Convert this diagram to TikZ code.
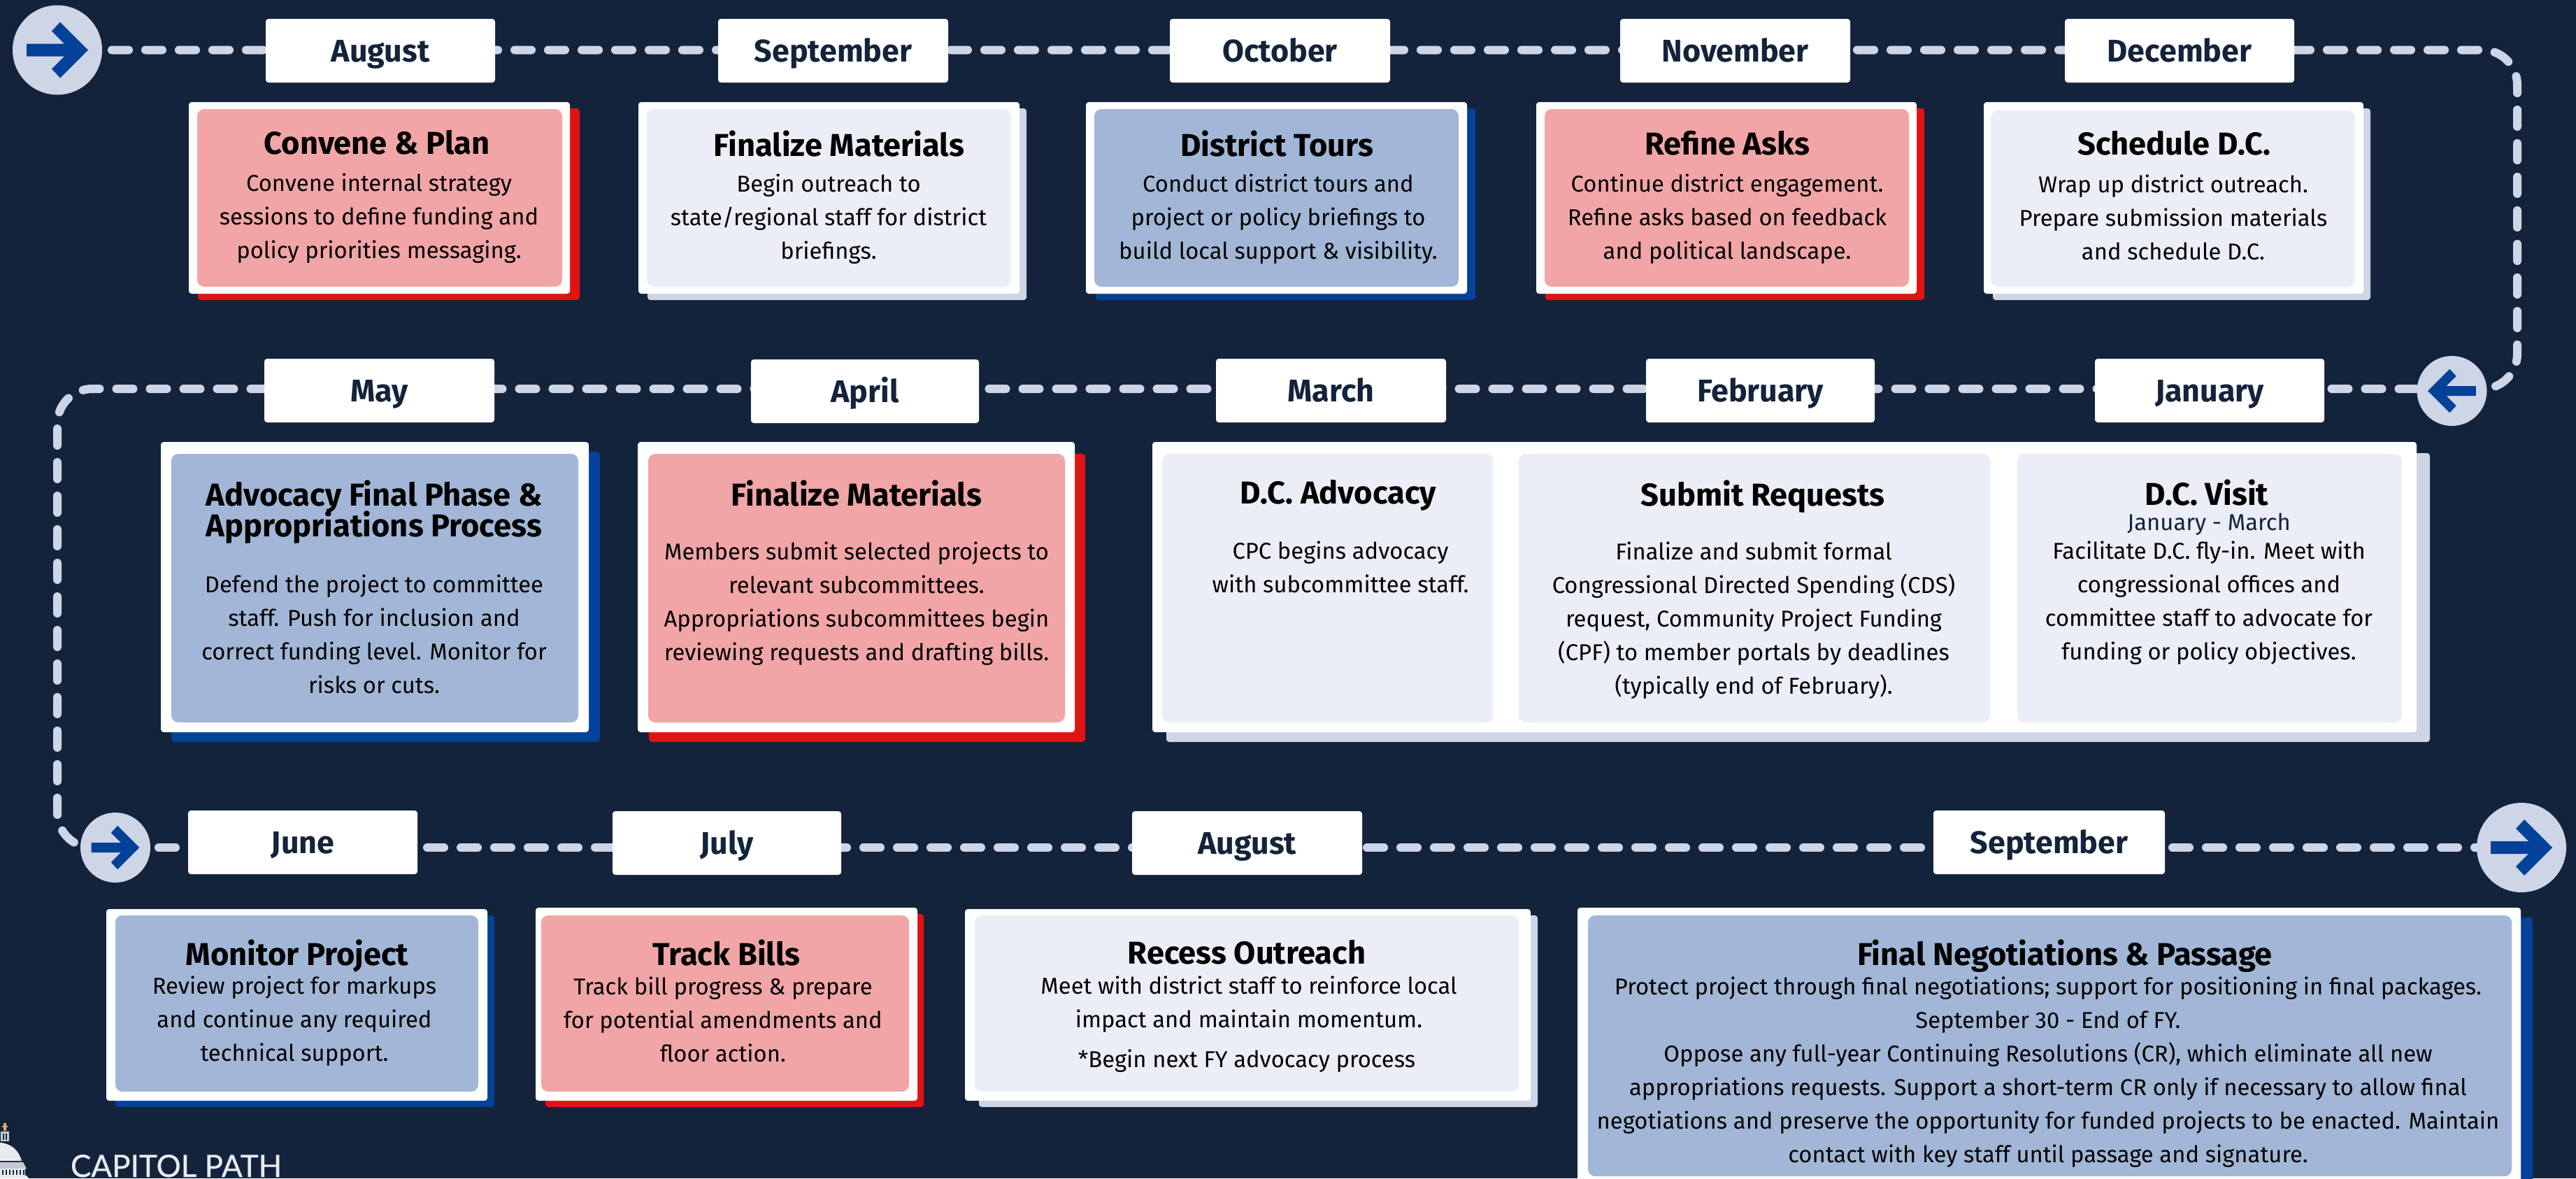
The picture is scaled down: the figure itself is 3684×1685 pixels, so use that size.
\documentclass[tikz,border=0pt]{standalone}
\usepackage{fontspec}
\setmainfont{Fira Sans}
\newfontfamily\logofont{Lato}[FakeBold=0.5]
\lineskiplimit=-20pt
\definecolor{bgnavy}{HTML}{13233B}
\definecolor{pinkfill}{HTML}{F2A5A6}
\definecolor{redshadow}{HTML}{E01313}
\definecolor{palefill}{HTML}{EBEEF6}
\definecolor{paleshadow}{HTML}{CED5E7}
\definecolor{bluefill}{HTML}{A2B7D7}
\definecolor{blueshadow}{HTML}{044198}
\pgfdeclarelayer{lines}
\pgfsetlayers{lines,main}
\tikzset{
  x=0.25pt,y=-0.25pt,
  plate/.style={rectangle,inner sep=0pt,outer sep=0pt,rounded corners=1pt},
  whiteplate/.style={plate,fill=white},
  redplate/.style={plate,fill=redshadow},
  paleshadowplate/.style={plate,fill=paleshadow},
  blueshadowplate/.style={plate,fill=blueshadow},
  pinkplate/.style={plate,fill=pinkfill,rounded corners=2.5pt},
  paleplate/.style={plate,fill=palefill,rounded corners=2.5pt},
  blueplate/.style={plate,fill=bluefill,rounded corners=2.5pt},
  monthbox/.style={plate,fill=white,anchor=north,text=bgnavy,text height=15.25pt,text depth=7.5pt,
    font=\fontsize{11.2}{12}\selectfont\bfseries},
  bodytxt/.style={inner sep=0pt,outer sep=0pt,anchor=north,align=center,text=black,font=\fontsize{8.2}{12}\selectfont},
  titletxt/.style={inner sep=0pt,outer sep=0pt,anchor=north,align=center,text=black,font=\fontsize{11.3}{11}\selectfont\bfseries},
  subtxt/.style={bodytxt,text=bgnavy},
  stop/.style={circle,fill=paleshadow,inner sep=0pt,outer sep=0pt},
  trail/.style={draw=paleshadow,line width=3pt,line cap=round,rounded corners=12.5pt},
  glyph/.style={fill=blueshadow}
}
\newcommand\plt[6]{\node[#2,minimum width={(#5-#3)*0.25pt},minimum height={(#6-#4)*0.25pt}] (#1) at ({(#3+#5)/2},{(#4+#6)/2}) {};}
\newcommand\monthlabel[5]{\node[monthbox,minimum width={(#5-#3)*0.25pt}] (#1) at ({(#3+#5)/2},#4) {#2};}
\newcommand\bodyt[4]{\node[bodytxt] (#1) at (#2,#3-32.6) {\strut #4};}
\newcommand\subt[4]{\node[subtxt] (#1) at (#2,#3-32.6) {\strut #4};}
\newcommand\titlet[4]{\node[titletxt] (#1) at (#2,#3-33.8) {\strut #4};}
\newcommand\arrowglyph[3]{\fill[glyph,shift={(#1.center)},xscale=#3,yscale=#2,xscale=#2]
  (44,0) -- (4,-40) -- (-8,-27) -- (10,-9) -- (-44,-9) -- (-44,9) -- (10,9) -- (-8,27) -- (4,40) -- cycle;}
\begin{document}
\begin{tikzpicture}
\useasboundingbox (0,0) rectangle (3684,1685);
\begin{pgfonlayer}{lines}
\fill[bgnavy] (0,0) rectangle (3684,1685);
\end{pgfonlayer}

% stops
\node[stop,minimum size=32pt] (stopA) at (82,71.5) {};
\node[stop,minimum size=25pt] (stopB) at (3506.5,559) {};
\node[stop,minimum size=25pt] (stopC) at (165,1212) {};
\node[stop,minimum size=32pt] (stopD) at (3606,1212) {};
\arrowglyph{stopA}{1}{1}
\arrowglyph{stopB}{0.78}{-1}
\arrowglyph{stopC}{0.78}{1}
\arrowglyph{stopD}{1}{1}

% turning points of the trail
\coordinate (cornerTR) at (3600,71.5);
\coordinate (cornerBR) at (3600,556);
\coordinate (cornerTL) at (82,556);
\coordinate (cornerBL) at (82,1212);
\begin{pgfonlayer}{lines}
\draw[trail,dash pattern=on 6pt off 6pt,dash phase=4.5pt] (stopA.center) -- (cornerTR) -- (cornerBR) -- (stopB |- cornerBR);
\draw[trail,dash pattern=on 6pt off 6pt,dash phase=11pt] (stopB |- cornerBR) -- (cornerTL) -- (cornerBL) -- (stopC.center);
\draw[trail,dash pattern=on 6pt off 6pt,dash phase=8.5pt] (stopC.center) -- (stopD.center);
\end{pgfonlayer}

% months
\monthlabel{mAug}{August}{380}{27}{708}
\monthlabel{mSep}{September}{1027}{27}{1356}
\monthlabel{mOct}{October}{1673}{27}{1988}
\monthlabel{mNov}{November}{2317}{27}{2646}
\monthlabel{mDec}{December}{2953}{27}{3281}
\monthlabel{mJan}{January}{2996}{513}{3324}
\monthlabel{mFeb}{February}{2354}{513}{2681}
\monthlabel{mMar}{March}{1739}{513}{2068}
\monthlabel{mApr}{April}{1074}{514}{1400}
\monthlabel{mMay}{May}{378}{513}{707}
\monthlabel{mJun}{June}{269}{1159}{597}
\monthlabel{mJul}{July}{876}{1160}{1203}
\monthlabel{mAugB}{August}{1619}{1160}{1948}
\monthlabel{mSepB}{September}{2765}{1159}{3096}

% row 1 cards
\plt{s1}{redplate}{283}{155}{829}{429}
\plt{w1}{whiteplate}{270}{146}{815}{420}
\plt{i1}{pinkplate}{282}{156}{804}{410}
\titlet{t1}{539}{220}{Convene \& Plan}
\bodyt{b1}{542}{272}{Convene internal strategy\\sessions to define funding and\\policy priorities messaging.}

\plt{s2}{paleshadowplate}{926}{155}{1468}{429}
\plt{w2}{whiteplate}{913}{146}{1458}{420}
\plt{i2}{paleplate}{925}{156}{1446}{410}
\titlet{t2}{1200}{221}{Finalize Materials}
\bodyt{b2}{1185}{273}{Begin outreach to\\state/regional staff for district\\briefings.}

\plt{s3}{blueshadowplate}{1567}{155}{2110}{429}
\plt{w3}{whiteplate}{1553}{146}{2098}{420}
\plt{i3}{blueplate}{1565}{156}{2086}{410}
\titlet{t3}{1826}{221}{District Tours}
\bodyt{b3}{1828}{273}{Conduct district tours and\\project or policy briefings to\\build local support \& visibility.}

\plt{s4}{redplate}{2210}{155}{2752}{429}
\plt{w4}{whiteplate}{2197}{146}{2741}{420}
\plt{i4}{pinkplate}{2209}{156}{2730}{410}
\titlet{t4}{2470}{221}{Refine Asks}
\bodyt{b4}{2470}{273}{Continue district engagement.\\Refine asks based on feedback\\and political landscape.}

\plt{s5}{paleshadowplate}{2850}{155}{3390}{429}
\plt{w5}{whiteplate}{2837}{146}{3380}{420}
\plt{i5}{paleplate}{2847}{158}{3368}{410}
\titlet{t5}{3109}{221}{Schedule D.C.}
\bodyt{b5}{3108}{274}{Wrap up district outreach.\\Prepare submission materials\\and schedule D.C.}

% row 2 cards
\plt{s6}{blueshadowplate}{245}{646}{858}{1061}
\plt{w6}{whiteplate}{230}{632}{842}{1047}
\plt{i6}{blueplate}{245}{649}{827}{1033}
\titlet{t6}{535}{721}{Advocacy Final Phase \&\\Appropriations Process}
\bodyt{b6}{535}{846}{Defend the project to committee\\staff. Push for inclusion and\\correct funding level. Monitor for\\risks or cuts.}

\plt{s7}{redplate}{928}{649}{1552}{1061}
\plt{w7}{whiteplate}{912}{632}{1537}{1047}
\plt{i7}{pinkplate}{927}{649}{1523}{1033}
\titlet{t7}{1225}{721}{Finalize Materials}
\bodyt{b7}{1225}{799}{Members submit selected projects to\\relevant subcommittees.\\Appropriations subcommittees begin\\reviewing requests and drafting bills.}

\plt{s8}{paleshadowplate}{1668}{648}{3475}{1061}
\plt{w8}{whiteplate}{1648}{632}{3456}{1047}
\plt{i8a}{paleplate}{1662}{649}{2135}{1033}
\plt{i8b}{paleplate}{2172}{649}{2846}{1033}
\plt{i8c}{paleplate}{2885}{649}{3435}{1033}
\titlet{t8a}{1914}{720}{D.C. Advocacy}
\bodyt{b8a}{1917}{798}{CPC begins advocacy\\with subcommittee staff.}
\titlet{t8b}{2521}{721}{Submit Requests}
\bodyt{b8b}{2508}{799}{Finalize and submit formal\\Congressional Directed Spending (CDS)\\request, Community Project Funding\\(CPF) to member portals by deadlines\\(typically end of February).}
\titlet{t8c}{3156}{720}{D.C. Visit}
\subt{d8c}{3159}{757}{January - March}
\bodyt{b8c}{3159}{798}{Facilitate D.C. fly-in. Meet with\\congressional offices and\\committee staff to advocate for\\funding or policy objectives.}

% row 3 cards
\plt{s9}{blueshadowplate}{165}{1309}{707}{1583}
\plt{w9}{whiteplate}{152}{1300}{697}{1574}
\plt{i9}{blueplate}{165}{1309}{684}{1561}
\titlet{t9}{425}{1378}{Monitor Project}
\bodyt{b9}{421}{1420}{Review project for markups\\and continue any required\\technical support.}

\plt{s10}{redplate}{780}{1307}{1321}{1583}
\plt{w10}{whiteplate}{766}{1298}{1312}{1574}
\plt{i10}{pinkplate}{774}{1309}{1300}{1561}
\titlet{t10}{1039}{1378}{Track Bills}
\bodyt{b10}{1034}{1421}{Track bill progress \& prepare\\for potential amendments and\\floor action.}

\plt{s11}{paleshadowplate}{1400}{1309}{2199}{1583}
\plt{w11}{whiteplate}{1380}{1300}{2189}{1574}
\plt{i11}{paleplate}{1394}{1309}{2172}{1561}
\titlet{t11}{1783}{1378}{Recess Outreach}
\bodyt{b11}{1786}{1420}{Meet with district staff to reinforce local\\impact and maintain momentum.}
\bodyt{n11}{1783}{1525}{*Begin next FY advocacy process}

\plt{s12}{blueshadowplate}{2300}{1312}{3622}{1720}
\plt{w12}{whiteplate}{2256}{1298}{3605}{1710}
\plt{i12}{blueplate}{2271}{1309}{3592}{1682}
\titlet{t12}{2953}{1378}{Final Negotiations \& Passage}
\bodyt{b12}{2929}{1421}{Protect project through final negotiations; support for positioning in final packages.\\September 30 - End of FY.\\Oppose any full-year Continuing Resolutions (CR), which eliminate all new\\appropriations requests. Support a short-term CR only if necessary to allow final\\negotiations and preserve the opportunity for funded projects to be enacted. Maintain\\contact with key staff until passage and signature.}

% logo
\fill[fill={rgb,255:red,217;green,177;blue,95}] (5,1606) rectangle (9,1617);
\fill[fill={rgb,255:red,217;green,177;blue,95}] (3,1610) rectangle (11,1612);
\fill[fill={rgb,255:red,200;green,204;blue,212}] (1,1618) rectangle (13,1632);
\fill[bgnavy] (4,1621) rectangle (6,1630);
\fill[bgnavy] (8,1621) rectangle (10,1630);
\fill[fill={rgb,255:red,232;green,234;blue,238}] (0,1634) .. controls (16,1635) and (27,1645) .. (31,1660) -- (0,1660) -- cycle;
\fill[fill={rgb,255:red,196;green,200;blue,208}] (0,1662) -- (33,1662) -- (38,1671) -- (0,1671) -- cycle;
\fill[fill={rgb,255:red,232;green,234;blue,238}] (0,1671) rectangle (36,1681);
\foreach \lx in {3,8,...,33}{\fill[bgnavy] (\lx,1673) rectangle (\lx+2,1680);}
\fill[fill={rgb,255:red,232;green,234;blue,238}] (0,1681) -- (38,1681) -- (41,1685) -- (0,1685) -- cycle;
\node[inner sep=0pt,outer sep=0pt,anchor=base west,text={rgb,255:red,232;green,234;blue,238},font=\logofont\fontsize{11}{13}\selectfont] (logoname) at (101,1683) {CAPITOL PATH};
\end{tikzpicture}
\end{document}
